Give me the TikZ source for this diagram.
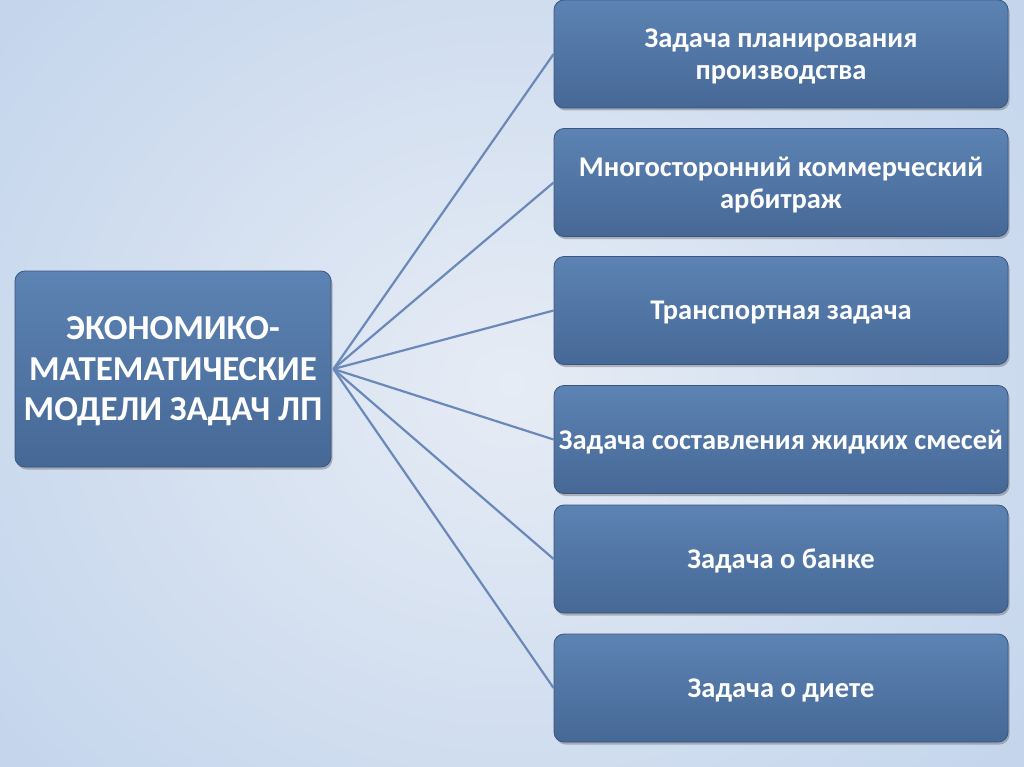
\documentclass[tikz,border=0pt]{standalone}
\usepackage{fontspec}
\setmainfont{Carlito}
\usetikzlibrary{shadows,shadings}
\definecolor{bgA}{RGB}{196,213,236}
\definecolor{bgB}{RGB}{230,236,245}
\definecolor{boxTop}{RGB}{92,131,179}
\definecolor{boxBot}{RGB}{70,104,150}
\definecolor{boxLine}{RGB}{58,86,126}
\definecolor{conn}{RGB}{106,137,184}
\tikzset{
  card/.style={rectangle, rounded corners=10pt, draw=boxLine, line width=0.8pt,
    top color=boxTop, bottom color=boxBot, text=white, align=center,
    font=\bfseries, inner sep=0pt,
    drop shadow={shadow xshift=1.5pt, shadow yshift=-2.5pt, opacity=0.35, fill=black!70}},
  bigcard/.style={card, minimum width=316pt, minimum height=196pt,
    font=\fontsize{35}{40.5}\bfseries\selectfont},
  smallcard/.style={card, minimum width=454pt, minimum height=108pt,
    font=\fontsize{28.5}{32}\bfseries\selectfont},
  link/.style={draw=conn, line width=2.2pt}
}
\begin{document}
\begin{tikzpicture}[x=1pt,y=-1pt]
\useasboundingbox (0,0) rectangle (1024,767);
\shade[inner color=bgB, outer color=bgA] (-150,-200) rectangle (1174,967);
\node[bigcard, text depth=-5pt] (L) at (173,369) {ЭКОНОМИКО-\\МАТЕМАТИЧЕСКИЕ\\МОДЕЛИ ЗАДАЧ ЛП};
\node[smallcard, text depth=-5pt] (r1) at (781,54) {Задача планирования\\производства};
\node[smallcard, text depth=-5pt] (r2) at (781,182.5) {Многосторонний коммерческий\\арбитраж};
\node[smallcard, text depth=-5pt] (r3) at (781,310.5) {Транспортная задача};
\node[smallcard, text depth=-5pt] (r4) at (781,439.5) {Задача составления жидких смесей};
\node[smallcard, text depth=-5pt] (r5) at (781,559) {Задача о банке};
\node[smallcard, text depth=-5pt] (r6) at (781,688) {Задача о диете};
\foreach \r in {r1,r2,r3,r4,r5,r6}
  \draw[link] ([xshift=2pt]L.east) -- (\r.west);
\end{tikzpicture}
\end{document}
